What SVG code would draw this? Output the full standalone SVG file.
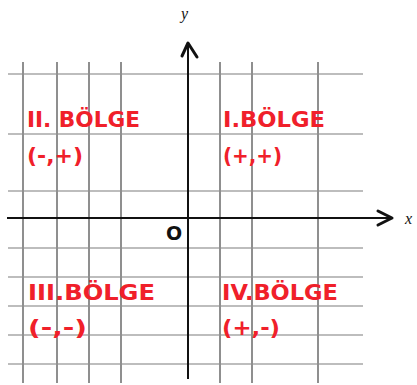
<svg xmlns="http://www.w3.org/2000/svg" width="417" height="385" viewBox="0 0 417 385">
<style>
.gh{stroke:#bdbdbd;stroke-width:2;fill:none}
.gv{stroke:#8f8f8f;stroke-width:2;fill:none}
.ax{stroke:#111;stroke-width:2;fill:none}
.ah{stroke:#111;stroke-width:3;fill:none;stroke-linecap:round;stroke-linejoin:round}
.q{fill:#f0202a;font-family:"DejaVu Sans",sans-serif;font-weight:bold;font-size:21px}
.p{fill:#f0202a;font-family:"DejaVu Sans",sans-serif;font-weight:bold;font-size:22px}
.lab{fill:#111;font-family:"Liberation Serif",serif;font-style:italic;font-size:16px}
</style>
<rect width="417" height="385" fill="#fff"/>
<g id="grid">
<path class="gh" d="M8 74H363M8 134H363M8 191H363M8 248H363M8 277H363M8 306H363M8 335H363M8 364H363"/>
<path class="gv" d="M23 62V383M57 62V383M89 62V383M121 62V383M220 62V383M252 62V383M318 62V383"/>
</g>
<g id="connectors">
<path class="ax" d="M188 43V379"/>
<polyline class="ah" points="182,56 188,43 197,57"/>
<path class="ax" d="M7 218H392"/>
<polyline class="ah" points="378,211 392,218 378,225"/>
</g>
<g id="axis-y"><text class="lab" x="181" y="19">y</text></g>
<g id="axis-x"><text class="lab" x="405" y="224">x</text></g>
<g id="origin"><text x="166" y="240" font-family="DejaVu Sans,sans-serif" font-weight="bold" font-size="19" fill="#111">O</text></g>
<g id="q2">
<text class="q" x="27" y="127" textLength="113" lengthAdjust="spacingAndGlyphs">II. BÖLGE</text>
<text class="p" x="27" y="163" textLength="56" lengthAdjust="spacingAndGlyphs">(-,+)</text>
</g>
<g id="q1">
<text class="q" x="223" y="127" textLength="102" lengthAdjust="spacingAndGlyphs">I.BÖLGE</text>
<text class="p" x="223" y="163" textLength="59" lengthAdjust="spacingAndGlyphs">(+,+)</text>
</g>
<g id="q3">
<text class="q" x="28" y="300" textLength="127" lengthAdjust="spacingAndGlyphs">III.BÖLGE</text>
<text class="p" x="28" y="335" textLength="59" lengthAdjust="spacingAndGlyphs">(-,-)</text>
</g>
<g id="q4">
<text class="q" x="222" y="300" textLength="116" lengthAdjust="spacingAndGlyphs">IV.BÖLGE</text>
<text class="p" x="222" y="335" textLength="58" lengthAdjust="spacingAndGlyphs">(+,-)</text>
</g>
</svg>
